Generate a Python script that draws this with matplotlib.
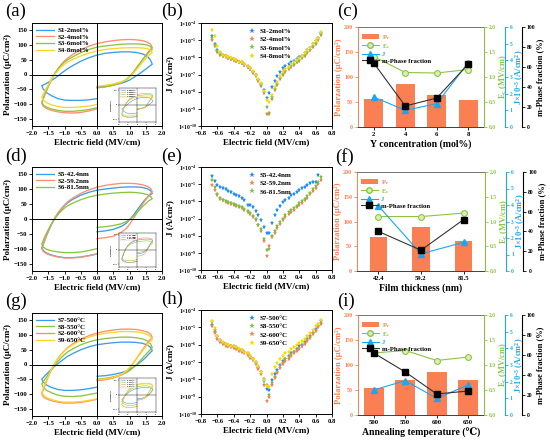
import numpy as np
import matplotlib
matplotlib.use('Agg')
import matplotlib.pyplot as plt
from matplotlib.patches import Patch
from matplotlib.lines import Line2D

plt.rcParams['font.family'] = ['Liberation Serif', 'DejaVu Serif', 'DejaVu Sans']
plt.rcParams['font.weight'] = 'bold'
plt.rcParams['axes.labelweight'] = 'bold'
plt.rcParams['mathtext.default'] = 'regular'
plt.rcParams['axes.linewidth'] = 0.7
plt.rcParams['xtick.major.width'] = 0.6
plt.rcParams['ytick.major.width'] = 0.6
plt.rcParams['xtick.major.size'] = 2
plt.rcParams['ytick.major.size'] = 2
plt.rcParams['xtick.major.pad'] = 1.5
plt.rcParams['ytick.major.pad'] = 1.5

# ---------------- data ----------------
# P-E loop path: lower-right branch, upper branch, lower-left branch
LOOP_E = [0.0, 0.25, 0.5, 0.75, 0.9, 1.0, 1.1, 1.2, 1.3, 1.4, 1.5, 1.6, 1.7,
          1.65, 1.55, 1.4, 1.2, 1.0, 0.75, 0.5, 0.25, 0.0, -0.25, -0.5, -0.75, -0.9, -1.0,
          -1.1, -1.2, -1.3, -1.4, -1.5, -1.6, -1.7,
          -1.65, -1.55, -1.4, -1.2, -1.0, -0.75, -0.5, -0.25, 0.0]

# (a) Y concentration
A_S1 = [-42, -40, -36, -30, -24, -19, -12, -5, 2, 10, 18, 27, 35,
        48, 62, 70, 75, 77, 77, 75, 72, 66, 57, 45, 30, 20, 12,
        4, -5, -13, -20, -27, -33, -38,
        -50, -62, -72, -82, -87, -88, -88, -86, -82]
A_S2 = [-45, -42, -37, -28, -18, -8, 5, 20, 35, 50, 65, 80, 92,
        103, 110, 115, 118, 119, 118, 115, 111, 105, 96, 84, 68, 56, 46,
        34, 20, 3, -18, -42, -68, -98,
        -108, -116, -122, -127, -130, -131, -129, -124, -117]
A_S3 = [-45, -42, -36, -27, -17, -7, 5, 20, 35, 50, 63, 76, 86,
        95, 100, 103, 104, 104, 103, 100, 97, 93, 85, 74, 60, 50, 42,
        32, 19, 3, -16, -38, -63, -94,
        -104, -111, -117, -122, -125, -125, -123, -119, -113]
A_S4 = [-40, -37, -32, -25, -17, -9, 2, 15, 28, 42, 54, 66, 75,
        83, 88, 90, 91, 91, 90, 88, 85, 80, 73, 63, 51, 43, 35,
        26, 14, 0, -16, -35, -55, -77,
        -88, -96, -103, -109, -112, -112, -110, -107, -102]
A_LABELS = ['S1-2mol%', 'S2-4mol%', 'S3-6mol%', 'S4-8mol%']

# (d) film thickness
D_S5 = [-43, -40, -35, -25, -14, -3, 10, 25, 40, 55, 68, 78, 86,
        95, 102, 106, 108, 108, 107, 104, 101, 97, 90, 80, 66, 55, 45,
        33, 19, 2, -18, -42, -68, -97,
        -107, -115, -121, -127, -130, -130, -128, -123, -117]
D_S2 = [-66, -63, -58, -45, -32, -18, -2, 15, 32, 50, 65, 80, 92,
        103, 110, 115, 119, 120, 120, 117, 113, 107, 98, 86, 70, 58, 47,
        35, 21, 4, -17, -42, -70, -100,
        -110, -117, -123, -128, -131, -131, -129, -124, -118]
D_S6 = [-28, -26, -22, -16, -9, -2, 7, 18, 30, 42, 52, 62, 68,
        76, 82, 86, 89, 90, 89, 87, 84, 80, 74, 65, 53, 45, 37,
        27, 15, 1, -16, -36, -58, -85,
        -95, -102, -107, -111, -113, -113, -111, -106, -100]
D_LABELS = ['S5-42.4nm', 'S2-59.2nm', 'S6-81.5nm']

# (g) annealing temperature
G_S7 = [-40, -38, -34, -28, -22, -17, -10, -3, 5, 14, 24, 36, 47,
        58, 66, 72, 75, 76, 76, 74, 71, 67, 60, 50, 37, 28, 20,
        12, 3, -6, -16, -27, -38, -50,
        -60, -70, -78, -85, -88, -88, -86, -82, -77]
G_S8 = [-50, -47, -42, -35, -28, -21, -12, -2, 10, 22, 34, 46, 57,
        70, 80, 87, 91, 93, 93, 91, 88, 84, 77, 67, 53, 43, 34,
        23, 11, -3, -18, -34, -50, -66,
        -78, -88, -96, -104, -108, -109, -107, -102, -97]
G_S2 = [-55, -52, -46, -36, -24, -12, 2, 18, 34, 50, 65, 80, 92,
        103, 110, 115, 119, 120, 120, 117, 113, 107, 98, 86, 70, 58, 47,
        35, 21, 4, -17, -42, -70, -100,
        -110, -117, -123, -128, -131, -131, -129, -124, -118]
G_S9 = [-52, -49, -44, -34, -22, -11, 2, 17, 32, 47, 61, 74, 85,
        95, 102, 107, 111, 112, 112, 109, 106, 101, 93, 82, 67, 56, 46,
        34, 20, 4, -16, -40, -66, -95,
        -105, -113, -119, -125, -128, -128, -126, -122, -116]
G_LABELS = ['S7-500°C', 'S8-550°C', 'S2-600°C', 'S9-650°C']

# J-E leakage (log10 J, A/cm^2)
JE = [-0.67, -0.63, -0.60, -0.57, -0.53, -0.50, -0.47, -0.43, -0.40, -0.37, -0.33, -0.30, -0.27, -0.23,
      -0.20, -0.17, -0.13, -0.10, -0.07, -0.03, 0.00, 0.03, 0.07, 0.10, 0.13, 0.17, 0.20, 0.23, 0.27,
      0.30, 0.33, 0.37, 0.40, 0.43, 0.47, 0.50, 0.53, 0.57, 0.60, 0.63, 0.67]
B_S1 = [-4.75, -5.20, -5.60, -5.75, -5.85, -5.95, -6.05, -6.10, -6.15, -6.20, -6.30, -6.35, -6.45, -6.55,
        -6.70, -6.85, -7.05, -7.30, -7.55, -7.90, -8.35, -8.05, -7.70, -7.40, -7.10, -6.85, -6.65, -6.50,
        -6.40, -6.30, -6.20, -6.10, -6.00, -5.90, -5.75, -5.60, -5.45, -5.25, -5.05, -4.85, -4.60]
B_S2 = [-5.00, -5.35, -5.70, -5.85, -5.95, -6.00, -6.05, -6.10, -6.15, -6.20, -6.30, -6.35, -6.45, -6.55,
        -6.70, -6.90, -7.10, -7.35, -7.65, -8.10, -9.30, -9.25, -8.40, -7.90, -7.60, -7.25, -7.00, -6.85,
        -6.70, -6.55, -6.45, -6.30, -6.20, -6.05, -5.90, -5.75, -5.60, -5.40, -5.20, -5.00, -4.70]
B_S3 = [-4.85, -5.30, -5.65, -5.80, -5.90, -5.95, -6.00, -6.05, -6.10, -6.15, -6.25, -6.30, -6.40, -6.50,
        -6.65, -6.85, -7.05, -7.30, -7.60, -8.00, -8.90, -9.30, -8.30, -7.85, -7.55, -7.20, -6.95, -6.80,
        -6.65, -6.50, -6.40, -6.25, -6.15, -6.00, -5.85, -5.70, -5.55, -5.35, -5.15, -4.95, -4.65]
B_S4 = [-4.40, -4.75, -5.35, -5.70, -5.85, -5.95, -6.00, -6.05, -6.10, -6.15, -6.25, -6.30, -6.40, -6.50,
        -6.65, -6.80, -7.00, -7.25, -7.50, -7.95, -8.50, -8.60, -8.20, -7.75, -7.45, -7.10, -6.85, -6.70,
        -6.55, -6.40, -6.30, -6.15, -6.05, -5.90, -5.75, -5.60, -5.45, -5.25, -5.05, -4.85, -4.55]
E_S5 = [-4.55, -4.80, -5.05, -5.15, -5.25, -5.30, -5.40, -5.45, -5.55, -5.65, -5.70, -5.80, -5.90, -6.20,
        -6.20, -6.35, -6.55, -6.80, -7.10, -7.50, -7.85, -7.85, -7.25, -6.80, -6.50, -6.25, -6.05, -5.90,
        -5.80, -5.65, -5.55, -5.45, -5.35, -5.25, -5.15, -5.05, -4.95, -4.90, -4.85, -4.45, np.nan]
E_S2 = [-5.05, -5.35, -5.65, -5.85, -5.95, -6.05, -6.10, -6.15, -6.20, -6.25, -6.35, -6.40, -6.50, -6.60,
        -6.75, -6.90, -7.10, -7.40, -7.70, -8.30, -9.20, -8.60, -8.10, -7.85, -7.55, -7.30, -7.10, -6.90,
        -6.75, -6.60, -6.50, -6.35, -6.20, -6.10, -5.95, -5.80, -5.60, -5.40, -5.20, -5.00, -4.75]
E_S6 = [-4.75, -5.15, -5.60, -5.80, -5.90, -6.00, -6.05, -6.10, -6.15, -6.20, -6.30, -6.35, -6.45, -6.55,
        -6.70, -6.85, -7.05, -7.35, -7.60, -8.20, -8.85, -8.80, -8.00, -7.75, -7.45, -7.20, -7.00, -6.80,
        -6.65, -6.50, -6.40, -6.25, -6.10, -6.00, -5.85, -5.70, -5.50, -5.30, -5.10, -4.90, -4.60]
H_S7 = [-4.85, -5.25, -5.55, -5.80, -5.90, -6.00, -6.05, -6.10, -6.15, -6.20, -6.30, -6.35, -6.45, -6.55,
        -6.70, -6.85, -7.05, -7.35, -7.60, -8.10, -8.55, -8.60, -8.05, -7.70, -7.45, -7.15, -6.95, -6.80,
        -6.65, -6.50, -6.40, -6.25, -6.10, -6.00, -5.85, -5.70, -5.50, -5.30, -5.10, -4.90, -4.65]
H_S8 = [-4.70, -5.15, -5.50, -5.75, -5.90, -5.95, -6.00, -6.05, -6.10, -6.15, -6.25, -6.30, -6.40, -6.50,
        -6.65, -6.80, -7.00, -7.30, -7.55, -8.00, -8.30, -8.90, -8.20, -7.85, -7.55, -7.25, -7.05, -6.85,
        -6.70, -6.55, -6.45, -6.30, -6.20, -6.05, -5.90, -5.75, -5.55, -5.35, -5.15, -4.95, -4.75]
H_S2 = [-4.95, -5.35, -5.70, -5.85, -5.95, -6.05, -6.10, -6.15, -6.20, -6.25, -6.35, -6.40, -6.50, -6.60,
        -6.75, -6.90, -7.10, -7.40, -7.70, -8.30, -9.25, -9.00, -8.30, -7.95, -7.65, -7.35, -7.10, -6.95,
        -6.80, -6.65, -6.50, -6.35, -6.25, -6.10, -5.95, -5.80, -5.60, -5.40, -5.20, -5.00, -4.80]
H_S9 = [-4.65, -5.05, -5.50, -5.75, -5.85, -5.95, -6.00, -6.05, -6.10, -6.15, -6.25, -6.30, -6.40, -6.50,
        -6.65, -6.80, -7.00, -7.25, -7.55, -8.05, -8.40, -8.45, -7.70, -7.30, -7.05, -6.85, -6.65, -6.50,
        -6.40, -6.25, -6.15, -6.00, -5.90, -5.80, -5.65, -5.50, -5.35, -5.15, -4.95, -4.80, -4.60]

# property summaries
C_CATS = ['2', '4', '6', '8']
C_PR = [57, 87, 65, 55]
C_EC = [1.41, 1.09, 1.08, 1.15]
C_J = [1.8, 1.0, 1.4, 3.86]
C_M = [64, 21, 29, 63]
F_CATS = ['42.4', '59.2', '81.5']
F_PR = [69, 88, 60]
F_EC = [1.10, 1.10, 1.17]
F_J = [3.95, 1.04, 1.74]
F_M = [40, 21, 52]
I_CATS = ['500', '550', '600', '650']
I_PR = [55, 70, 87, 71]
I_EC = [1.24, 1.29, 1.09, 1.16]
I_J = [1.5, 2.06, 1.0, 1.8]
I_M = [62, 43, 21, 24]

# ---------------- style ----------------
L_BLUE, L_ORANGE, L_GREEN, L_YELLOW = '#3A9EEA', '#FF8F6E', '#8CC63F', '#FFD426'
M_BLUE, M_ORANGE, M_GREEN, M_YELLOW = '#1E90FF', '#FF7F50', '#7DC142', '#FFD700'
C_BAR = '#FA7F52'
C_G = '#8CC63F'
C_B = '#1AA7F2'

W, H = 550, 442
fig = plt.figure(figsize=(W / 100, H / 100), dpi=100)


def fax(l, t, r, b):
    return fig.add_axes([l / W, 1 - b / H, (r - l) / W, (b - t) / H])


TS = 4.8   # tick label size
LS = 6.5   # axis label size


def loop_panel(rect, loops, labels, colors):
    ax = fax(*rect)
    for P, lab, c in zip(loops, labels, colors):
        ax.plot(LOOP_E, P, color=c, lw=0.95, label=lab, zorder=2)
    ax.axhline(0, color='k', lw=0.7, zorder=3)
    ax.axvline(0, color='k', lw=0.7, zorder=3)
    ax.set_xlim(-2, 2)
    ax.set_ylim(-175, 175)
    ax.set_xticks([-2, -1.5, -1, -0.5, 0, 0.5, 1, 1.5, 2])
    ax.set_xticklabels(['−2.0', '−1.5', '−1.0', '−0.5', '0.0', '0.5', '1.0', '1.5', '2.0'])
    ax.set_yticks([-150, -100, -50, 0, 50, 100, 150])
    ax.tick_params(labelsize=TS)
    ax.set_xlabel('Electric field (MV/cm)', fontsize=LS, labelpad=2)
    ax.set_ylabel('Polarzation (μC/cm²)', fontsize=LS, labelpad=1)
    leg = ax.legend(loc='upper left', fontsize=5, frameon=False, handlelength=2.6,
                    labelspacing=0.12, borderaxespad=0.2, handletextpad=0.5)
    for t in leg.get_texts():
        t.set_fontweight('bold')
    # inset
    ins = ax.inset_axes([0.67, 0.04, 0.28, 0.33])
    ins.set_facecolor('white')
    for P, lab, c in zip(loops, labels, colors):
        ins.plot(LOOP_E, P, color=c, lw=0.4, label=lab)
    ins.axhline(0, color='k', lw=0.3)
    ins.axvline(0, color='k', lw=0.3)
    ins.set_xlim(-2, 2)
    ins.set_ylim(-175, 175)
    ins.set_xticks([-2, -1, 0, 1, 2])
    ins.set_yticks([-150, 0, 150])
    ins.tick_params(labelsize=1.6, length=0.8, width=0.3, pad=0.4)
    for s in ins.spines.values():
        s.set_linewidth(0.3)
    ins.set_xlabel('Electric field (MV/cm)', fontsize=1.6, labelpad=0.3)
    ins.set_ylabel('Polarization', fontsize=1.6, labelpad=0.3)
    ins.legend(loc='upper left', fontsize=1.5, frameon=True, framealpha=1, edgecolor='0.6',
               handlelength=2, labelspacing=0.2, borderpad=0.3).get_frame().set_linewidth(0.2)
    return ax


def j_panel(rect, series, labels, colors):
    ax = fax(*rect)
    for s, lab, c in zip(series, labels, colors):
        ax.plot(JE, 10 ** np.array(s, dtype=float), ls='none', marker='*', ms=3.6,
                mew=0, color=c, label=lab)
    ax.set_yscale('log')
    ax.set_ylim(1e-10, 1e-4)
    ax.set_xlim(-0.8, 0.8)
    ax.set_yticks([10.0 ** k for k in range(-10, -3)])
    ax.set_yticklabels(['1×10$^{%d}$' % k for k in range(-10, -3)])
    ax.minorticks_off()
    ax.set_xticks([-0.8, -0.6, -0.4, -0.2, 0, 0.2, 0.4, 0.6, 0.8])
    ax.set_xticklabels(['−0.8', '−0.6', '−0.4', '−0.2', '0.0', '0.2', '0.4', '0.6', '0.8'])
    ax.tick_params(axis='x', labelsize=TS)
    ax.tick_params(axis='y', labelsize=4.0, pad=1)
    ax.set_xlabel('Electric field (MV/cm)', fontsize=LS, labelpad=2)
    ax.set_ylabel('J (A/cm²)', fontsize=LS)
    ax.yaxis.set_label_coords(-0.205, 0.5)
    leg = ax.legend(loc='upper left', bbox_to_anchor=(0.33, 0.99), fontsize=5, frameon=False,
                    handlelength=1.0, labelspacing=0.35, borderaxespad=0.2, handletextpad=0.6,
                    markerscale=1.2)
    for t in leg.get_texts():
        t.set_fontweight('bold')
    return ax


def prop_panel(rect, cats, pr, ec, j, m, xlabel, bar_w):
    ax = fax(*rect)
    x = np.arange(len(cats))
    ax.bar(x, pr, width=bar_w, color=C_BAR, zorder=2)
    ax.set_xlim(-0.5, len(cats) - 0.5)
    ax.set_ylim(0, 200)
    ax.set_yticks([0, 50, 100, 150, 200])
    ax.set_xticks(x)
    ax.set_xticklabels(cats)
    ax.tick_params(axis='x', labelsize=TS)
    ax.tick_params(axis='y', labelsize=TS - 0.5, colors=C_BAR)
    ax.spines['left'].set_color(C_BAR)
    ax.spines['top'].set_color('0.45')
    ax.spines['bottom'].set_color('0.25')
    ax.set_ylabel('Polarzation (μC/cm²)', fontsize=LS - 0.3, color=C_BAR, labelpad=1)
    ax.set_xlabel(xlabel, fontsize=LS + 0.5, labelpad=2)

    ax2 = ax.twinx()
    ax2.plot(x, ec, color=C_G, lw=0.8, marker='o', ms=4.2, mfc='#D9EFB8', mec=C_G, mew=0.8)
    ax2.set_ylim(0, 2.0)
    ax2.set_yticks([0, 0.5, 1.0, 1.5, 2.0])
    ax2.set_yticklabels(['0.0', '0.5', '1.0', '1.5', '2.0'])
    ax2.spines['right'].set_color(C_G)
    ax2.tick_params(axis='y', colors=C_G, labelsize=TS - 0.8)
    ax2.set_ylabel('E$_c$ (MV/cm)', fontsize=LS - 0.5, color=C_G, labelpad=1)

    ax3 = ax.twinx()
    ax3.spines['right'].set_position(('axes', 1.167))
    ax3.plot(x, j, color=C_B, lw=0.8, marker='^', ms=4.2, mfc=C_B, mec=C_B)
    ax3.set_ylim(0, 6)
    ax3.set_yticks([0, 1, 2, 3, 4, 5, 6])
    ax3.spines['right'].set_color(C_B)
    ax3.tick_params(axis='y', colors=C_B, labelsize=TS - 0.8)
    ax3.set_ylabel('J×10$^{-5}$ (A/cm$^2$)', fontsize=LS - 0.5, color=C_B, labelpad=0.5)

    ax4 = ax.twinx()
    ax4.spines['right'].set_position(('axes', 1.30))
    ax4.plot(x, m, color='#333333', lw=0.8, marker='s', ms=4.0, mfc='black', mec='black')
    ax4.set_ylim(0, 100)
    ax4.set_yticks([0, 20, 40, 60, 80, 100])
    ax4.tick_params(axis='y', colors='black', labelsize=TS - 0.8)
    ax4.set_ylabel('m-Phase fraction (%)', fontsize=LS - 0.5, color='black', labelpad=1)

    for a in (ax2, ax3, ax4):
        a.spines['left'].set_visible(False)
        a.spines['top'].set_visible(False)
        a.spines['bottom'].set_visible(False)
    for a in (ax3, ax4):
        a.spines['right'].set_linewidth(0.8)

    handles = [Patch(facecolor=C_BAR, edgecolor='none'),
               Line2D([], [], color=C_G, lw=0.8, marker='o', ms=4, mfc='#D9EFB8', mec=C_G),
               Line2D([], [], color=C_B, lw=0.8, marker='^', ms=4, mfc=C_B, mec=C_B),
               Line2D([], [], color='#333333', lw=0.8, marker='s', ms=4, mfc='black', mec='black')]
    labels = ['P$_r$', 'E$_c$', 'J', 'm-Phase fraction']
    leg = ax4.legend(handles, labels, loc='upper left', bbox_to_anchor=(0.0, 0.98), fontsize=4.8,
                     frameon=False, handlelength=2.6, handleheight=0.9, labelspacing=0.05,
                     borderaxespad=0.15, handletextpad=0.4)
    for t, c in zip(leg.get_texts(), [C_BAR, C_G, C_B, 'black']):
        t.set_color(c)
        t.set_fontweight('bold')
    return ax


# Row 1
loop_panel((32, 23, 162, 126), [A_S1, A_S2, A_S3, A_S4], A_LABELS,
           [L_BLUE, L_ORANGE, L_GREEN, L_YELLOW])
j_panel((201, 23, 332, 126), [B_S1, B_S2, B_S3, B_S4],
        ['S1-2mol%', 'S2-4mol%', 'S3-6mol%', 'S4-8mol%'],
        [M_BLUE, M_ORANGE, M_GREEN, M_YELLOW])
prop_panel((358, 27, 484, 127), C_CATS, C_PR, C_EC, C_J, C_M, 'Y concentration (mol%)', 0.6)

# Row 2
loop_panel((32, 167, 162, 271), [D_S5, D_S2, D_S6], D_LABELS,
           [L_BLUE, L_ORANGE, L_GREEN])
j_panel((201, 167, 332, 270), [E_S5, E_S2, E_S6],
        ['S5-42.4nm', 'S2-59.2nm', 'S6-81.5nm'],
        [M_BLUE, M_ORANGE, M_GREEN])
prop_panel((357, 172, 485, 271), F_CATS, F_PR, F_EC, F_J, F_M, 'Film thickness (nm)', 0.41)

# Row 3
loop_panel((32, 313, 162, 416), [G_S7, G_S8, G_S2, G_S9], G_LABELS,
           [L_BLUE, L_GREEN, L_ORANGE, L_YELLOW])
j_panel((201, 310, 332, 414), [H_S7, H_S8, H_S2, H_S9],
        ['S7-500°C', 'S8-550°C', 'S2-600°C', 'S9-650°C'],
        [M_BLUE, M_GREEN, M_ORANGE, M_YELLOW])
prop_panel((358, 315, 484, 415), I_CATS, I_PR, I_EC, I_J, I_M, 'Annealing temperature (℃)', 0.65)

# panel letters
for lab, x, y in [('(a)', 5, 3), ('(b)', 161, 3), ('(c)', 337, 3),
                  ('(d)', 5, 148), ('(e)', 161, 148), ('(f)', 335, 148),
                  ('(g)', 5, 293), ('(h)', 161, 291), ('(i)', 337, 293)]:
    fig.text(x / W, 1 - y / H, lab, fontsize=13.5, fontweight='normal', va='top', ha='left')

fig.savefig('out.png', dpi=100)
